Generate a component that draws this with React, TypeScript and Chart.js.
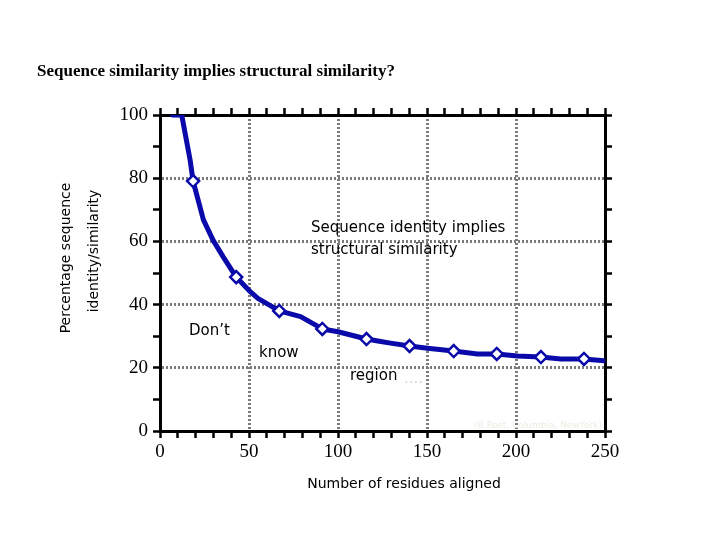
import React, { useEffect, useRef } from "react";
import { Chart, registerables } from "chart.js";

Chart.register(...registerables);

const chartTitle = "Sequence similarity implies structural similarity?";
const yTitleLines = ["Percentage sequence", "identity/similarity"];
const xTitle = "Number of residues aligned";

const lineX = [7, 12.2, 16.9, 18.6, 24.4, 29.8, 35.5, 42.8, 50.7, 55, 67, 79, 91.2, 100, 116, 124, 129.5, 140.2, 150.2, 165, 178.3, 189.2, 200.8, 214, 225.2, 238.2, 249.4];
const lineY = [100, 100, 85.8, 79.1, 66.8, 60.4, 55.1, 48.7, 44.1, 42, 38, 36.2, 32.3, 31.4, 29.1, 28.3, 27.8, 26.9, 26.2, 25.3, 24.4, 24.4, 23.7, 23.4, 22.8, 22.8, 22.2];

// diamond markers
const markerX = [18.6, 42.8, 67, 91.2, 116, 140.2, 165, 189.2, 214, 238.2];
const markerY = [79.1, 48.7, 38, 32.3, 29.1, 26.9, 25.3, 24.4, 23.4, 22.8];

const xMin = 0, xMax = 250, xMinorStep = 10, xMajorStep = 50;
const yMin = 0, yMax = 100, yMinorStep = 10, yMajorStep = 20;

const regionTexts = [
  { text: "Sequence identity implies", x: 311, y: 228 },
  { text: "structural similarity", x: 311, y: 250 },
  { text: "Don’t", x: 189, y: 331 },
  { text: "know", x: 259, y: 353 },
  { text: "region", x: 350, y: 376 },
];

const BLUE = "#0a0aaa";

export default function App() {
  const ref = useRef<HTMLCanvasElement | null>(null);

  useEffect(() => {
    if (!ref.current) return;

    const textPlugin = {
      id: "texts",
      afterDraw(chart: any) {
        const c = chart.ctx;
        c.save();
        c.fillStyle = "#000";
        c.textBaseline = "middle";
        c.textAlign = "left";
        c.font = "bold 17px 'Liberation Serif'";
        c.fillText(chartTitle, 37, 72);

        c.font = "15px 'DejaVu Sans'";
        regionTexts.forEach((t) => c.fillText(t.text, t.x, t.y));
        c.fillStyle = "#d8d8d8";
        c.fillText("....", 404, 379);
        c.fillStyle = "#ecece2";
        c.font = "9px 'DejaVu Sans'";
        c.textAlign = "right";
        c.fillText("(B.Rost, Columbia, NewYork)", 602, 426);

        c.fillStyle = "#000";
        c.font = "14px 'DejaVu Sans'";
        c.textAlign = "center";
        c.fillText(xTitle, 404, 484);

        c.save();
        c.translate(66, 258);
        c.rotate(-Math.PI / 2);
        c.fillText(yTitleLines[0], 0, 0);
        c.restore();
        c.save();
        c.translate(94, 251);
        c.rotate(-Math.PI / 2);
        c.fillText(yTitleLines[1], 0, 0);
        c.restore();
        c.restore();
      },
    };

    const gridColor = (major: number, lo: number, hi: number) => (ctx: any) => {
      const v = ctx.tick ? ctx.tick.value : NaN;
      return v % major === 0 && v !== lo && v !== hi ? "#7a7a7a" : "rgba(0,0,0,0)";
    };

    const tickFont = { family: "'Liberation Serif'", size: 19 };

    const chart = new Chart(ref.current, {
      type: "line",
      data: {
        datasets: [
          {
            data: lineX.map((x, i) => ({ x, y: lineY[i] })),
            borderColor: BLUE,
            borderWidth: 5,
            pointRadius: 0,
            tension: 0,
            borderJoinStyle: "round",
            borderCapStyle: "round",
            fill: false,
            order: 2,
          },
          {
            data: markerX.map((x, i) => ({ x, y: markerY[i] })),
            showLine: false,
            pointStyle: "rectRot",
            pointRadius: 6,
            pointBorderWidth: 2.5,
            pointBorderColor: BLUE,
            pointBackgroundColor: "#ffffff",
            order: 1,
          },
        ],
      },
      options: {
        animation: false,
        responsive: false,
        devicePixelRatio: 1,
        layout: { padding: { top: 95, right: 95, left: 0, bottom: 0 } },
        plugins: { legend: { display: false }, tooltip: { enabled: false }, title: { display: false } },
        scales: {
          x: {
            type: "linear",
            position: "bottom",
            min: xMin,
            max: xMax,
            afterFit: (s: any) => { s.height = 109; },
            ticks: {
              stepSize: xMinorStep,
              autoSkip: false,
              maxRotation: 0,
              padding: 3,
              color: "#000",
              font: tickFont,
              callback: (v: any) => (v % xMajorStep === 0 ? String(v) : ""),
            },
            grid: {
              color: gridColor(xMajorStep, xMin, xMax),
              lineWidth: 3,
              tickColor: "#000",
              tickLength: 7,
              tickWidth: 2.5,
            },
            border: { display: true, color: "#000", width: 3, dash: [2, 2] },
          },
          x2: {
            type: "linear",
            position: "top",
            min: xMin,
            max: xMax,
            afterFit: (s: any) => { s.height = 20; },
            ticks: { stepSize: xMinorStep, display: false },
            grid: { drawOnChartArea: false, tickColor: "#000", tickLength: 7, tickWidth: 2.5 },
            border: { display: true, color: "#000", width: 3 },
          },
          y: {
            type: "linear",
            position: "left",
            min: yMin,
            max: yMax,
            afterFit: (s: any) => { s.width = 160; },
            ticks: {
              stepSize: yMinorStep,
              autoSkip: false,
              padding: 5,
              color: "#000",
              font: tickFont,
              callback: (v: any) => (v % yMajorStep === 0 ? String(v) : ""),
            },
            grid: {
              color: gridColor(yMajorStep, yMin, yMax),
              lineWidth: 3,
              tickColor: "#000",
              tickLength: 7,
              tickWidth: 2.5,
            },
            border: { display: true, color: "#000", width: 3, dash: [2, 2] },
          },
          y2: {
            type: "linear",
            position: "right",
            min: yMin,
            max: yMax,
            afterFit: (s: any) => { s.width = 20; },
            ticks: { stepSize: yMinorStep, display: false },
            grid: { drawOnChartArea: false, tickColor: "#000", tickLength: 7, tickWidth: 2.5 },
            border: { display: true, color: "#000", width: 3 },
          },
        },
      },
      plugins: [textPlugin],
    } as any);

    return () => chart.destroy();
  }, []);

  return (
    <div style={{ position: "fixed", left: 0, top: 0, width: 720, height: 540, background: "#fff" }}>
      <canvas ref={ref} width={720} height={540} style={{ width: 720, height: 540 }} />
    </div>
  );
}
